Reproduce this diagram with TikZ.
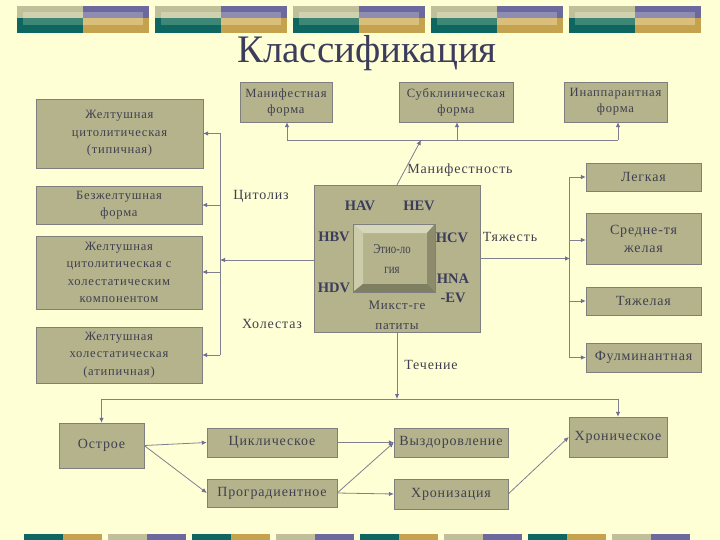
\documentclass[tikz,border=0pt]{standalone}
\usepackage{fontspec}
\setmainfont{Liberation Serif}
\newfontfamily\boxfnt[LetterSpace=6]{Liberation Serif}
\newfontfamily\condfnt[FakeStretch=0.8]{Liberation Serif}
\usetikzlibrary{arrows.meta}
\definecolor{bg}{HTML}{FFFFD6}
\definecolor{boxfill}{HTML}{B4B38C}
\definecolor{boxline}{HTML}{7F7F7F}
\definecolor{txt}{HTML}{404050}
\definecolor{ln}{HTML}{80808E}
\definecolor{tip}{HTML}{6E6E96}
\definecolor{khaki}{HTML}{BFC09A}
\definecolor{khakil}{HTML}{D0D2AF}
\definecolor{teal}{HTML}{0E6661}
\definecolor{teall}{HTML}{3E8777}
\definecolor{purp}{HTML}{6B699D}
\definecolor{purpl}{HTML}{8E8CB0}
\definecolor{gold}{HTML}{C4A24E}
\definecolor{goldl}{HTML}{D9BF7A}
\definecolor{titlec}{HTML}{3C3C5C}
\definecolor{bevt}{HTML}{D6D6BA}
\definecolor{bevl}{HTML}{CCCCAA}
\definecolor{bevr}{HTML}{8C8C6C}
\definecolor{bevb}{HTML}{7E7E60}
\tikzset{
  box/.style={draw=boxline, fill=boxfill, inner sep=0pt, align=center, text=txt, font=\boxfnt\fontsize{12.6}{17.5}\selectfont},
  bbox/.style={box, font=\boxfnt\fontsize{14}{18}\selectfont},
  lbl/.style={text=txt, inner sep=0pt, font=\boxfnt\fontsize{14}{16}\selectfont},
  vir/.style={text=titlec, inner sep=0pt, font=\bfseries\fontsize{14.5}{16}\selectfont},
  ctext/.style={text=txt, inner sep=0pt, align=center, font=\condfnt\fontsize{13.5}{20}\selectfont},
  conn/.style={draw=ln, line width=0.8pt},
  arr/.style={conn, -{Latex[length=5pt,width=4.5pt,fill=tip,color=tip]}}
}
\begin{document}
\begin{tikzpicture}[x=1pt,y=-1pt]
\fill[bg] (0,0) rectangle (720,540);
\useasboundingbox (0,0) rectangle (720,540);
% top banner
\foreach \x in {17,155,293,431,569}{
  \fill[khaki] (\x,6) rectangle ++(66,12);
  \fill[khakil] (\x+6,12) rectangle (\x+66,18);
  \fill[teal] (\x,18) rectangle ++(66,15);
  \fill[teall] (\x+6,18) rectangle (\x+66,25);
  \fill[purp] (\x+66,6) rectangle ++(66,12);
  \fill[purpl] (\x+66,12) rectangle (\x+126,18);
  \fill[gold] (\x+66,18) rectangle ++(66,15);
  \fill[goldl] (\x+66,18) rectangle (\x+126,25);
}
% bottom banner
\foreach \i in {0,2,4,6}{
  \fill[teal] (24+84*\i,534) rectangle ++(39,6);
  \fill[gold] (63+84*\i,534) rectangle ++(39,6);
}
\foreach \i in {1,3,5,7}{
  \fill[khaki] (24+84*\i,534) rectangle ++(39,6);
  \fill[purp] (63+84*\i,534) rectangle ++(39,6);
}
% title
\node[text=titlec, inner sep=0pt, font=\fontsize{39}{44}\selectfont] (title) at (367,53) {Классификация};

% left boxes
\node[box, minimum width=167, minimum height=69] (l1) at (119.5,133.5) {Желтушная\\цитолитическая\\(типичная)};
\node[box, minimum width=166, minimum height=38] (l2) at (119,205) {Безжелтушная\\форма};
\node[box, minimum width=166, minimum height=73] (l3) at (119,272.5) {Желтушная\\цитолитическая с\\холестатическим\\компонентом};
\node[box, minimum width=166, minimum height=56] (l4) at (119,355) {Желтушная\\холестатическая\\(атипичная)};

% top boxes
\tikzset{tbox/.style={box, font=\boxfnt\fontsize{12.6}{16}\selectfont}}
\node[tbox, minimum width=92, minimum height=40] (t1) at (286,102) {Манифестная\\форма};
\node[tbox, minimum width=114, minimum height=40] (t2) at (456,102) {Субклиническая\\форма};
\node[tbox, minimum width=103, minimum height=40] (t3) at (615.5,102) {Инаппарантная\\форма};

% right boxes
\node[bbox, minimum width=115, minimum height=28] (r1) at (643.5,177) {Легкая};
\node[bbox, minimum width=115, minimum height=51] (r2) at (643.5,238.5) {Средне-тя\\желая};
\node[bbox, minimum width=115, minimum height=28] (r3) at (643.5,301) {Тяжелая};
\node[bbox, minimum width=115, minimum height=29] (r4) at (643.5,357.5) {Фулминантная};

% center box
\node[draw=boxline, fill=boxfill, minimum width=166, minimum height=147, inner sep=0pt] (cb) at (397,258.5) {};
\fill[bevt] (353,224) -- (435,224) -- (427,233) -- (363,233) -- cycle;
\fill[bevl] (353,224) -- (363,233) -- (363,284) -- (353,292) -- cycle;
\fill[bevr] (435,224) -- (435,292) -- (427,284) -- (427,233) -- cycle;
\fill[bevb] (353,292) -- (435,292) -- (427,284) -- (363,284) -- cycle;
\draw[boxline, line width=0.4pt] (353,224) rectangle (435,292);
\node[ctext] (etio) at (392,259) {Этио-ло\\гия};
\node[ctext, font=\boxfnt\fontsize{13}{20}\selectfont] (mix) at (397,315) {Микст-ге\\патиты};
\node[vir] (hav) at (360,206) {HAV};
\node[vir] (hev) at (419,206) {HEV};
\node[vir] (hbv) at (334,237) {HBV};
\node[vir] (hcv) at (452,238) {HCV};
\node[vir] (hdv) at (334,288) {HDV};
\node[vir, align=center, font=\bfseries\fontsize{14.5}{19}\selectfont] (hna) at (453,288) {HNA\\-EV};

% bottom boxes
\node[bbox, minimum width=85, minimum height=45] (ost) at (101.5,445.5) {Острое};
\node[bbox, minimum width=130, minimum height=29] (cyc) at (272,442.5) {Циклическое};
\node[bbox, minimum width=130, minimum height=28] (prog) at (272,493) {Проградиентное};
\node[bbox, minimum width=114, minimum height=29] (vyz) at (451,442.5) {Выздоровление};
\node[bbox, minimum width=114, minimum height=30] (hroniz) at (451,494) {Хронизация};
\node[bbox, minimum width=98, minimum height=40] (hron) at (618,437) {Хроническое};

% labels
\node[lbl] (cit) at (261,196) {Цитолиз};
\node[lbl] (hol) at (272,324) {Холестаз};
\node[lbl] (man) at (460,170) {Манифестность};
\node[lbl] (tya) at (510,237) {Тяжесть};
\node[lbl] (tech) at (431,365) {Течение};

% left connectors
\coordinate (lvt) at (220,133.5);
\coordinate (lvb) at (220,355);
\coordinate (lvm) at (220,260);
\draw[conn] (lvt) -- (lvb);
\draw[arr] (cb.west |- lvm) -- (lvm);
\draw[arr] (lvt) -- (l1.east |- lvt);
\draw[arr] (220,205) coordinate (lv2) -- (l2.east |- lv2);
\draw[arr] (220,272) coordinate (lv3) -- (l3.east |- lv3);
\draw[arr] (lvb) -- (l4.east |- lvb);

% top connectors
\coordinate (th1) at (287,140);
\coordinate (th3) at (618,140);
\coordinate (thm) at (421,140);
\coordinate (th2) at (457,140);
\draw[conn] (th1) -- (th3);
\draw[arr] (cb.north) -- (thm);
\draw[arr] (th1) -- (th1 |- t1.south);
\draw[arr] (th2) -- (th2 |- t2.south);
\draw[arr] (th3) -- (th3 |- t3.south);

% right connectors
\coordinate (rvt) at (569,177);
\coordinate (rvb) at (569,357.5);
\coordinate (rvm) at (570,258.5);
\draw[conn] (rvt) -- (rvb);
\draw[arr] (cb.east) -- (rvm);
\draw[arr] (rvt) -- (r1.west |- rvt);
\draw[arr] (569,240) coordinate (rv2) -- (r2.west |- rv2);
\draw[arr] (569,301) coordinate (rv3) -- (r3.west |- rv3);
\draw[arr] (rvb) -- (r4.west |- rvb);

% bottom connectors
\coordinate (bh1) at (101.5,399);
\coordinate (bh2) at (618,399);
\coordinate (bhm) at (397,399);
\draw[conn] (bh1) -- (bh2);
\draw[arr] (cb.south) -- (bhm);
\draw[arr] (bh1) -- (ost.north);
\draw[arr] (bh2) -- (hron.north);
\draw[arr] (ost.east) -- (cyc.west);
\draw[arr] (ost.east) -- (prog.west);
\draw[arr] (cyc.east) -- (vyz.west);
\draw[arr] (prog.east) -- (vyz.west);
\draw[arr] (prog.east) -- (hroniz.west);
\draw[arr] (hroniz.east) -- (hron.west);
\end{tikzpicture}
\end{document}
